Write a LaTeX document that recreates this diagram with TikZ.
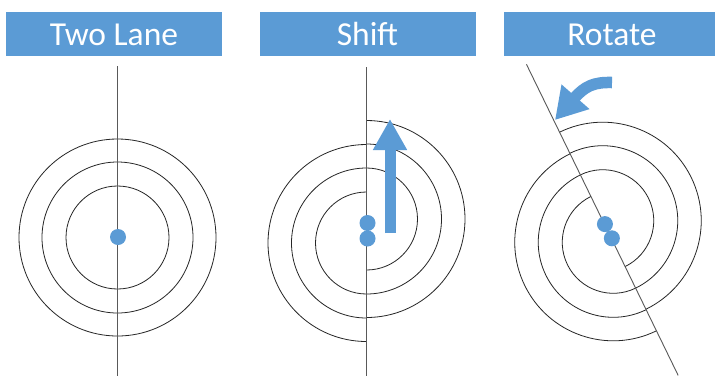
\documentclass[tikz,border=0pt]{standalone}
\usepackage{fontspec}
\setmainfont{Carlito}
\usetikzlibrary{arrows.meta}
\definecolor{hdrblue}{HTML}{5B9BD5}
\begin{document}
\begin{tikzpicture}[x=1pt,y=-1pt,
  hdr/.style={fill=hdrblue, text=white, minimum width=216pt, minimum height=44pt,
    inner sep=0pt, text height=22pt, text depth=0pt, font=\fontsize{33.5}{40}\selectfont},
  ring/.style={draw=black!85, line width=0.8pt},
  lane/.style={draw=black!65, line width=0.9pt},
  dot/.style={circle, fill=hdrblue, minimum size=16pt, inner sep=0pt},
  bigarrow/.style={draw=hdrblue, line width=11pt, -{Triangle[width=32pt,length=31pt]}},
  turnarrow/.style={draw=hdrblue, line width=11.5pt, -{Triangle[width=35pt,length=31pt]}}
]
\useasboundingbox (0,0) rectangle (715,376);
\fill[white] (0,0) rectangle (715,376);

% headers
\node[hdr] (h1) at (114,34) {Two Lane};
\node[hdr] (h2) at (367.5,34) {Shift};
\node[hdr] (h3) at (612,34) {Rotate};

% panel 1: two lane
\coordinate (c1) at (117.5,237.5);
\foreach \r in {51.5,75.5,98.5} \draw[ring] (c1) circle[radius=\r];
\coordinate (l1t) at (117,66);
\coordinate (l1b) at (117,376);
\draw[lane] (l1t) -- (l1b);
\node[dot] (d1) at (118,237) {};

% panel 2: shift
\begin{scope}[shift={(366.5,231)}]
  \foreach \r in {51,75,98.5} {
    \draw[ring] (0,12-\r) arc[start angle=270, end angle=90, radius=\r];
    \draw[ring] (0,-12-\r) arc[start angle=-90, end angle=90, radius=\r];
  }
  \coordinate (l2t) at (0,-164);
  \coordinate (l2b) at (0,145);
  \draw[lane] (l2t) -- (l2b);
  \node[dot] (d2a) at (1,-8) {};
  \node[dot] (d2b) at (1,7.5) {};
\end{scope}
\coordinate (sa0) at (390,233);
\coordinate (sa1) at (390,119);
\draw[bigarrow] (sa0) -- (sa1);

% panel 3: rotate
\begin{scope}[shift={(608,231.5)}, rotate=26]
  \foreach \r in {51,75,98.5} {
    \draw[ring] (0,12-\r) arc[start angle=270, end angle=90, radius=\r];
    \draw[ring] (0,-12-\r) arc[start angle=-90, end angle=90, radius=\r];
  }
  \coordinate (l3t) at (0,-186);
  \coordinate (l3b) at (0,160);
  \draw[lane] (l3t) -- (l3b);
  \node[dot] (d3a) at (0.5,-8) {};
  \node[dot] (d3b) at (0.5,7.8) {};
\end{scope}
\coordinate (ra0) at (612,82.5);
\coordinate (ra1) at (555,120);
\draw[turnarrow] (ra0) .. controls (594,82) and (585,86) .. (ra1);
\end{tikzpicture}
\end{document}
